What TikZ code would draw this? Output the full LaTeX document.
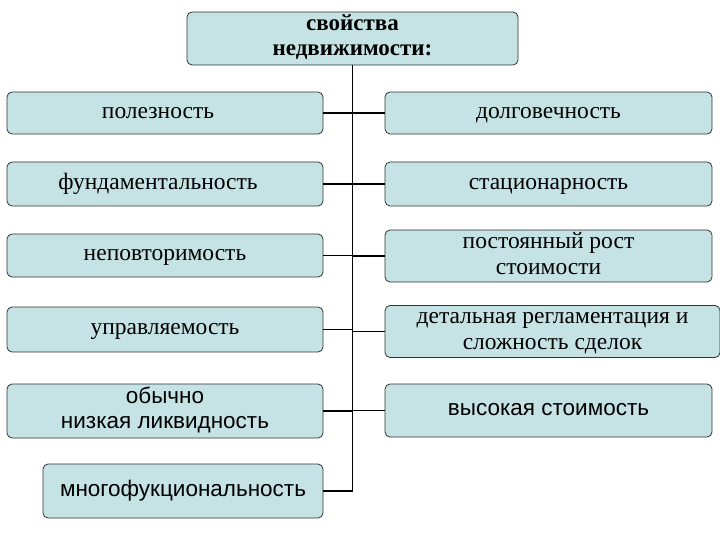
\documentclass[tikz,border=0pt]{standalone}
\usepackage{fontspec}
\setmainfont{Liberation Serif}
\newfontfamily\sansf{Liberation Sans}
\newcommand\tx[2][4pt]{\raisebox{-#1}{\begin{tabular}{@{}c@{}}#2\end{tabular}}}
\begin{document}
\begin{tikzpicture}[x=1pt,y=-1pt,
 bx/.style={draw=black!80,fill=bxc,rounded corners=5pt,line width=0.8pt,align=center,font=\fontsize{23.5}{26}\selectfont,inner sep=0pt},
 ln/.style={line width=1.8pt}]
\definecolor{bxc}{RGB}{197,226,228}
\useasboundingbox (0,0) rectangle (720,540);
\node[bx,minimum width=331,minimum height=53,font=\bfseries\fontsize{23}{25}\selectfont] (t) at (352.5,38.5) {\tx[5pt]{свойства\\недвижимости:}};
\node[bx,minimum width=316,minimum height=42] (l1) at (165,113) {\tx{\hspace*{-14pt}полезность}};
\node[bx,minimum width=316,minimum height=44] (l2) at (165,184) {\tx{\hspace*{-14pt}фундаментальность}};
\node[bx,minimum width=316,minimum height=43] (l3) at (165,255.5) {\tx{неповторимость}};
\node[bx,minimum width=316,minimum height=45] (l4) at (165,329.5) {\tx{управляемость}};
\node[bx,minimum width=316,minimum height=54,font=\sansf\fontsize{22.5}{25}\selectfont] (l5) at (165,411) {\tx[3pt]{обычно\\низкая ликвидность}};
\node[bx,minimum width=280,minimum height=54,font=\sansf\fontsize{22.5}{25}\selectfont] (l6) at (183,491) {\tx{многофукциональность}};
\node[bx,minimum width=327,minimum height=42] (r1) at (548.5,113) {\tx[6pt]{долговечность}};
\node[bx,minimum width=327,minimum height=44] (r2) at (548.5,184) {\tx[6pt]{стационарность}};
\node[bx,minimum width=327,minimum height=44] (r3) at (548.5,256) {\tx[3pt]{постоянный рост\\стоимости}};
\node[bx,minimum width=335,minimum height=49] (r4) at (552.5,331.5) {\tx[3pt]{детальная регламентация и\\сложность сделок}};
\node[bx,minimum width=327,minimum height=53,font=\sansf\fontsize{22.5}{25}\selectfont] (r5) at (548.5,410.5) {\tx{высокая стоимость}};
\coordinate (s0) at (t.south);
\coordinate (s6) at (t.south |- l6.east);
\draw[ln] (s0) -- (s6);
\foreach \i in {1,...,5}{
 \draw[ln] (l\i.east) -- (l\i.east -| s0);
 \draw[ln] (r\i.west) -- (r\i.west -| s0);
}
\draw[ln] (l6.east) -- (s6);
\end{tikzpicture}
\end{document}
